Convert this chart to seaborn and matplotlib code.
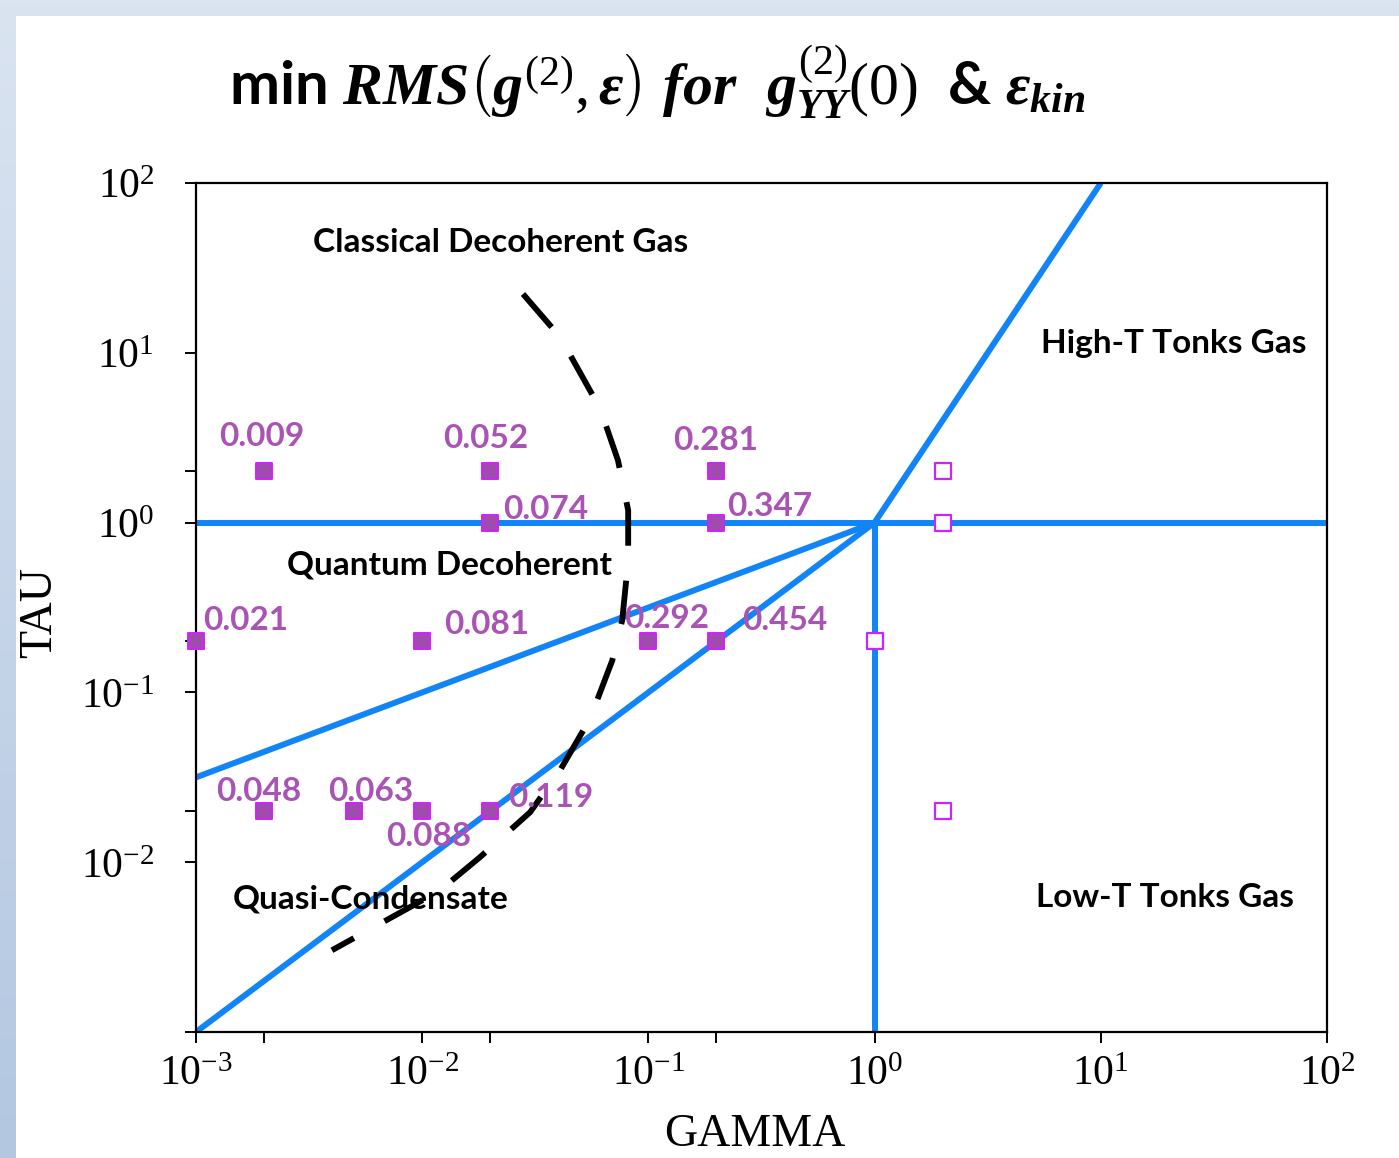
import numpy as np
import pandas as pd
import matplotlib
matplotlib.use("Agg")
import matplotlib.pyplot as plt
from matplotlib.patches import Rectangle
from matplotlib.ticker import FixedLocator, NullFormatter, FixedFormatter
import seaborn as sns

# ---------------- data ----------------
filled_gamma = [0.002, 0.02, 0.2, 0.02, 0.2, 0.001, 0.01, 0.1, 0.2, 0.002, 0.005, 0.01, 0.02]
filled_tau = [2, 2, 2, 1, 1, 0.2, 0.2, 0.2, 0.2, 0.02, 0.02, 0.02, 0.02]
filled_labels = ["0.009", "0.052", "0.281", "0.074", "0.347", "0.021", "0.081",
                 "0.292", "0.454", "0.048", "0.063", "0.088", "0.119"]

open_gamma = [2, 2, 1, 2]
open_tau = [2, 1, 0.2, 0.02]

# regime boundaries (end points)
horiz_gamma, horiz_tau = [1e-3, 1e2], [1, 1]
vert_gamma, vert_tau = [1, 1], [1e-3, 1]
qc_gamma, qc_tau = [1e-3, 1], [1e-3, 1]
qd_gamma, qd_tau = [1e-3, 1], [0.0316, 1]
ht_gamma, ht_tau = [1, 10], [1, 100]

# dashed crossover curve
dash_gamma = [0.0279, 0.0407, 0.0612, 0.0734, 0.0814, 0.0814, 0.0766, 0.0692,
              0.0553, 0.0407, 0.0300, 0.0180, 0.0120, 0.00867, 0.00399]
dash_tau = [22.2, 12.4, 4.69, 2.32, 1.18, 0.597, 0.266, 0.154,
            0.0703, 0.0348, 0.0197, 0.0107, 0.00684, 0.00536, 0.00303]

region_names = ["Classical Decoherent Gas", "High-T Tonks Gas", "Quantum Decoherent",
                "Quasi-Condensate", "Low-T Tonks Gas"]

x_ticks = [1e-3, 1e-2, 1e-1, 1e0, 1e1, 1e2]
x_labels = [r"$10^{-3}$", r"$10^{-2}$", r"$10^{-1}$", r"$10^{0}$", r"$10^{1}$", r"$10^{2}$"]
y_ticks = [1e-3, 1e-2, 1e-1, 1e0, 1e1, 1e2]
y_labels = ["", r"$10^{-2}$", r"$10^{-1}$", r"$10^{0}$", r"$10^{1}$", r"$10^{2}$"]
x_minor = [2e-3, 2e-2, 0.2]
y_minor = [0.02, 0.2, 2]

# ---------------- style ----------------
sns.set_style("ticks")
plt.rcParams["font.family"] = ["Lato", "DejaVu Sans"]
plt.rcParams["mathtext.fontset"] = "custom"
plt.rcParams["mathtext.rm"] = "Liberation Serif"
plt.rcParams["mathtext.it"] = "Liberation Serif:italic:bold"
plt.rcParams["mathtext.bf"] = "Liberation Serif:bold"
for k in ["text.color", "axes.labelcolor", "xtick.color", "ytick.color", "axes.edgecolor"]:
    plt.rcParams[k] = "black"

W, H = 1399, 1158
fig = plt.figure(figsize=(W / 100, H / 100), dpi=100)

# background gradient frame + white panel
bg = fig.add_axes([0, 0, 1, 1], zorder=-10)
grad = np.linspace(0, 1, 256).reshape(-1, 1)
cmap = matplotlib.colors.LinearSegmentedColormap.from_list("bgc", ["#DAE4F1", "#B3C7E1"])
bg.imshow(grad, aspect="auto", cmap=cmap, extent=[0, 1, 0, 1], origin="upper")
bg.add_patch(Rectangle((16 / W, 0), 1, 1 - 16 / H, transform=bg.transAxes,
                       facecolor="white", edgecolor="none"))
bg.set_xlim(0, 1); bg.set_ylim(0, 1)
bg.axis("off")

ax = fig.add_axes([196 / W, 1 - 1032 / H, (1327 - 196) / W, (1032 - 183) / H])
ax.set_facecolor("white")

blue = "#1184F7"
lw_b = 4.3
for gx, ty in [(horiz_gamma, horiz_tau), (vert_gamma, vert_tau), (qc_gamma, qc_tau),
               (qd_gamma, qd_tau), (ht_gamma, ht_tau)]:
    sns.lineplot(x=gx, y=ty, ax=ax, color=blue, lw=lw_b, sort=False, estimator=None,
                 solid_capstyle="butt", zorder=2)

sns.lineplot(x=dash_gamma, y=dash_tau, ax=ax, color="black", lw=4.2, sort=False,
             estimator=None, linestyle=(0, (7.5, 6.0)), zorder=3)

sns.scatterplot(x=filled_gamma, y=filled_tau, ax=ax, marker="s", s=120,
                color="#A04CAE", edgecolor="#D41EFF", linewidth=1.4, zorder=5, clip_on=False)
sns.scatterplot(x=open_gamma, y=open_tau, ax=ax, marker="s", s=120,
                facecolor="white", edgecolor="#CC22FF", linewidth=1.6, zorder=5, clip_on=False)

ax.set_xscale("log")
ax.set_yscale("log")
ax.set_xlim(1e-3, 1e2)
ax.set_ylim(1e-3, 1e2)

# value labels
offsets = [(-45, 35), (-47, 33), (-43, 31), (13, 13), (11, 16), (7, 21), (22, 17),
           (-24, 23), (26, 21), (-48, 20), (-26, 20), (-36, -25), (18, 14)]
for gx, ty, lab, (dx, dy) in zip(filled_gamma, filled_tau, filled_labels, offsets):
    ax.annotate(lab, (gx, ty), xytext=(dx, dy), textcoords="offset pixels",
                ha="left", va="center", fontsize=24, fontweight="bold",
                color="#A954B5", zorder=6, annotation_clip=False)

region_pos = [(0.1034, 0.9305), (0.7471, 0.8104), (0.0805, 0.5501),
              (0.0327, 0.1567), (0.7427, 0.1590)]
for name, (px, py) in zip(region_names, region_pos):
    ax.text(px, py, name, transform=ax.transAxes, ha="left", va="center",
            fontsize=24, fontweight="bold", color="black", zorder=7)

# ticks
ax.xaxis.set_major_locator(FixedLocator(x_ticks))
ax.xaxis.set_major_formatter(FixedFormatter(x_labels))
ax.yaxis.set_major_locator(FixedLocator(y_ticks))
ax.yaxis.set_major_formatter(FixedFormatter(y_labels))
ax.xaxis.set_minor_locator(FixedLocator(x_minor))
ax.yaxis.set_minor_locator(FixedLocator(y_minor))
ax.xaxis.set_minor_formatter(NullFormatter())
ax.yaxis.set_minor_formatter(NullFormatter())
ax.tick_params(axis="both", which="both", direction="out", length=8, width=1.4,
               color="black", labelcolor="black")
ax.tick_params(axis="both", which="major", labelsize=30, pad=8)
ax.tick_params(axis="y", which="major", pad=22)
for sp in ax.spines.values():
    sp.set_visible(True)
    sp.set_linewidth(1.6)
    sp.set_color("black")

ax.set_xlabel("")
ax.set_ylabel("")
fig.text(755 / W, 1 - 1135 / H, "GAMMA", ha="center", va="center", fontsize=33,
         family="Liberation Serif", color="black")
fig.text(40 / W, 1 - 612 / H, "TAU", ha="center", va="center", fontsize=33,
         family="Liberation Serif", rotation=90, color="black")

title = r"min $RMS\left(g^{(2)},\varepsilon\right)\ for\ \ g_{YY}^{(2)}(0)$  & $\varepsilon_{kin}$"
fig.text(657 / W, 1 - 82 / H, title, ha="center", va="center", fontsize=43,
         fontweight="bold", color="black")

fig.savefig("out.png", dpi=100)
